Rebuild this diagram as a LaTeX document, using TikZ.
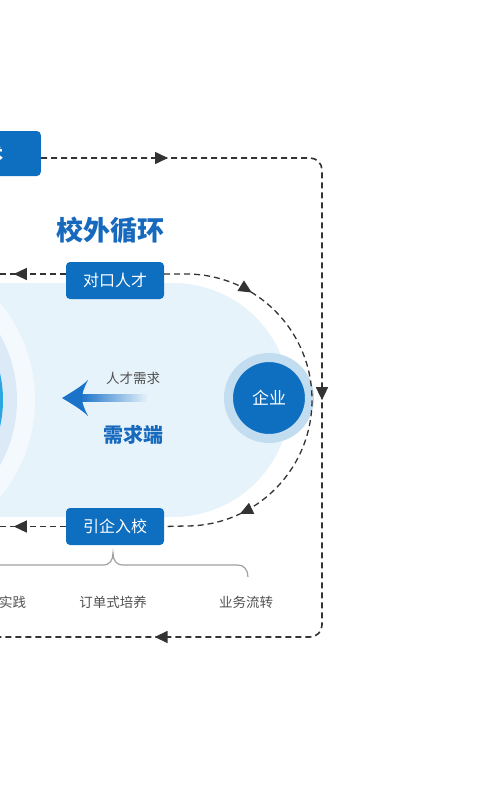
\documentclass[tikz,border=0pt]{standalone}
\usepackage{fontspec}
\setmainfont{Noto Sans CJK SC}
\usetikzlibrary{arrows.meta,positioning,decorations.markings}

\definecolor{boxblue}{HTML}{0E6EC0}
\definecolor{titleblue}{HTML}{1769BE}
\definecolor{bgblue}{HTML}{E6F3FA}
\definecolor{ringwhite}{HTML}{F4F9FD}
\definecolor{diskblue}{HTML}{DCEAF7}
\definecolor{coreblue}{HTML}{2BA6E1}
\definecolor{haloblue}{HTML}{C2DCF0}
\definecolor{arrowblue}{HTML}{1A73C8}
\definecolor{linegray}{HTML}{333333}
\definecolor{bracegray}{HTML}{A0A0A0}
\definecolor{textgray}{HTML}{505050}

\begin{document}
\begin{tikzpicture}[x=1pt, y=-1pt,
	every node/.style={font=\fontsize{13.5}{16}\selectfont, inner sep=0pt},
	tag/.style={fill=boxblue, text=white, rounded corners=4pt, minimum width=98pt, minimum height=37pt, font=\fontsize{16}{18}\selectfont},
	flow/.style={draw=linegray, line width=1.3pt, dash pattern=on 6pt off 4pt},
	tipat/.style={postaction={decorate, decoration={markings, mark=at position #1 with {\arrow[linegray]{Triangle[length=13pt, width=12pt]}}}}},
	note/.style={text=textgray}]
	\useasboundingbox (0,0) rectangle (480,800);
	% background shapes
	\fill[bgblue, rounded corners=117pt] (-300,283) rectangle (290,517);
	\fill[ringwhite] (-117,400) circle (152);
	\fill[diskblue] (-117,400) circle (134);
	\fill[coreblue] (-117,400) circle (120);

	\node[tag, minimum width=110pt, minimum height=45pt, anchor=east, font=\bfseries\fontsize{18}{20}\selectfont] (tech) at (41,153.5) {技术};
	\node[font=\bfseries\fontsize{27}{30}\selectfont, text=titleblue] (title) at (110,230) {校外循环};
	\node[tag] (talent) at (115,280.5) {对口人才};
	\node[tag] (intro) at (115,526.5) {引企入校};
	\node[circle, fill=boxblue, draw=haloblue, line width=9pt, minimum size=81pt, text=white, font=\fontsize{17}{20}\selectfont] (firm) at (269,398) {企业};

	\node[note] (need) at (133,378) {人才需求};
	\node[font=\bfseries\fontsize{20}{24}\selectfont, text=titleblue] (side) at (133,435) {需求端};
	\shade[left color=arrowblue, right color=bgblue] (80,394.5) rectangle (148,401.5);
	\fill[arrowblue] (62,398) .. controls (72,392) and (82,386) .. (88,380) .. controls (84,388) and (82,393) .. (82,398) .. controls (82,403) and (84,408) .. (88,416) .. controls (82,410) and (72,404) .. (62,398) -- cycle;

	% loops
	\coordinate (ytop) at (0,158);
	\draw[flow, line width=1.6pt, rounded corners=12pt, tipat=127pt, tipat=518pt, tipat=917pt] (tech.east |- ytop) -- (322,158) -- (322,637) -- (-10,637);
	\coordinate (yin) at (0,274);
	\draw[flow, tipat=91pt, tipat=362pt] (talent.east |- yin) -- (186,274) arc[start angle=-90, end angle=90, radius=126] -- (intro.east);
	\draw[flow, tipat=52pt] (talent.west |- yin) -- (-10,274);
	\draw[flow, tipat=52pt] (intro.west) -- (-10,526.5);

	% brace and labels
	\draw[bracegray, line width=1.2pt] (-10,565) -- (103,565) .. controls (110,565) and (113,560) .. (113,553) .. controls (113,560) and (116,565) .. (123,565) -- (238,565) .. controls (244,565) and (248,570) .. (248,577);
	\node[note, anchor=west] (practice) at (-1,602) {实践};
	\node[note] (order) at (113,602) {订单式培养};
	\node[note] (flowbiz) at (246,602) {业务流转};
\end{tikzpicture}
\end{document}
